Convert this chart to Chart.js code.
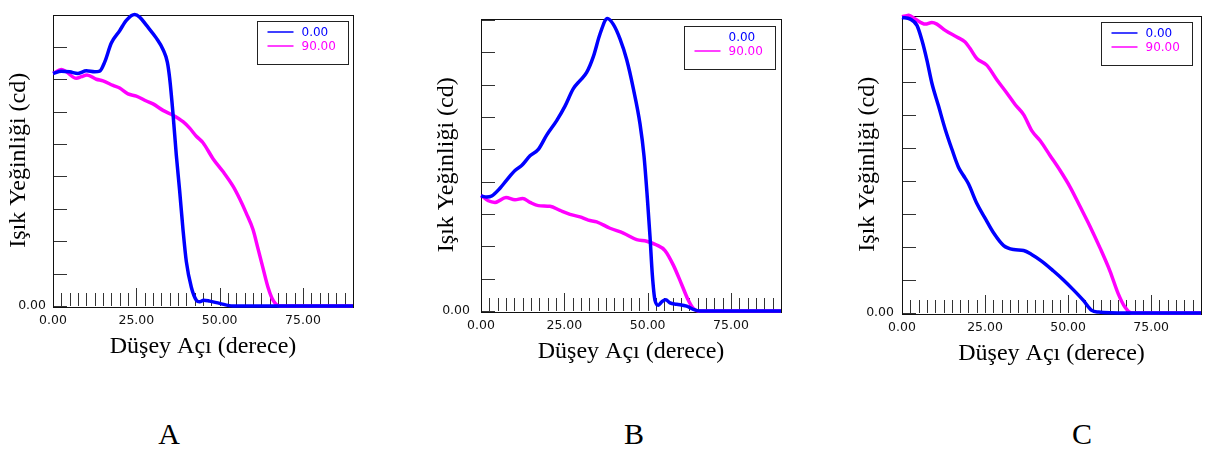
<!DOCTYPE html>
<html>
<head>
<meta charset="utf-8">
<script src="https://cdn.jsdelivr.net/npm/chart.js@4/dist/chart.umd.min.js"></script>
<style>
html,body{margin:0;padding:0;background:#fff;}
body{width:1216px;height:455px;overflow:hidden;position:relative;}
canvas{position:absolute;top:0;}
.tag{position:absolute;top:419px;font-family:"Liberation Serif","Times New Roman",serif;font-size:30px;line-height:30px;color:#000;transform:translateX(-50%);}
</style>
</head>
<body>
<canvas id="cA"></canvas>
<canvas id="cB"></canvas>
<canvas id="cC"></canvas>
<div class="tag" style="left:169px">A</div>
<div class="tag" style="left:634px">B</div>
<div class="tag" style="left:1082px">C</div>
<script>
// ---- labels ----
const xTitle = 'Düşey Açı (derece)';
const yTitle = 'Işık Yeğinliği (cd)';
const seriesLabels = ['0.00', '90.00'];
const xTickLabels = [0, 25, 50, 75];
const yTickLabels = [0];

// ---- Panel A ----
const aBlueAngle = [0, 2.5, 5, 7.5, 10, 12.5, 14, 15.5, 17.5, 20, 22, 24.5, 26, 28, 31, 33, 34.3, 35, 36, 37, 38, 39, 40, 41.5, 43, 44, 45.2, 47, 50, 54, 60, 70, 80, 90];
const aBlueCd    = [7.18, 7.25, 7.23, 7.18, 7.26, 7.23, 7.25, 7.53, 8.12, 8.5, 8.82, 9.0, 8.92, 8.67, 8.27, 7.92, 7.53, 7.03, 5.94, 4.65, 3.55, 2.36, 1.37, 0.58, 0.18, 0.13, 0.18, 0.15, 0.08, 0, 0, 0, 0, 0];
const aMagAngle  = [0, 2.5, 4, 7, 8.5, 10.2, 13, 15, 18, 20, 22.5, 25, 28, 30, 33, 36, 39, 41, 43, 45, 48, 51, 54, 56, 58, 60, 61.5, 63, 64.5, 66, 68, 75, 80, 90];
const aMagCd     = [7.18, 7.3, 7.23, 7.03, 7.08, 7.13, 7.0, 6.95, 6.81, 6.73, 6.55, 6.48, 6.33, 6.24, 6.04, 5.89, 5.69, 5.49, 5.24, 5.04, 4.55, 4.15, 3.7, 3.31, 2.86, 2.36, 1.77, 1.17, 0.58, 0.18, 0, 0, 0, 0];

// ---- Panel B ----
const bBlueAngle = [0, 1.7, 3.2, 5.7, 7.7, 10.2, 12.2, 14.7, 17.2, 19.7, 22.7, 25.2, 27.7, 29.7, 31.7, 33.7, 35.7, 37.9, 39.7, 41.7, 43.7, 45.7, 47.7, 48.9, 49.9, 50.7, 51.4, 52.2, 53.2, 54.2, 55.4, 56.7, 58.7, 61.7, 63.7, 65.7, 75, 90];
const bBlueCd    = [3.56, 3.53, 3.56, 3.8, 4.05, 4.35, 4.5, 4.8, 5.0, 5.44, 5.89, 6.34, 6.88, 7.13, 7.38, 7.87, 8.57, 9.05, 8.87, 8.42, 7.78, 6.88, 5.79, 4.8, 3.5, 2.31, 1.12, 0.33, 0.18, 0.28, 0.35, 0.25, 0.21, 0.15, 0.05, 0, 0, 0];
const bMagAngle  = [0, 2.2, 4.2, 7.5, 10.2, 12.5, 14.7, 17.2, 20.7, 23.7, 26.7, 29.7, 32.2, 34.7, 38.7, 42.7, 46.7, 49.7, 52.7, 55.2, 57.7, 60.2, 62.2, 63.7, 65.2, 75, 90];
const bMagCd     = [3.58, 3.41, 3.36, 3.51, 3.44, 3.48, 3.36, 3.26, 3.24, 3.11, 2.99, 2.91, 2.81, 2.76, 2.56, 2.41, 2.21, 2.16, 2.04, 1.87, 1.42, 0.82, 0.33, 0.08, 0, 0, 0];

// ---- Panel C ----
const cBlueAngle = [0, 2.5, 4.5, 6, 7.5, 9, 11, 13, 15, 17, 18.5, 20, 22.5, 25, 27.6, 30.6, 33.6, 36.6, 39, 42, 45.6, 48.6, 51.6, 54.6, 57.1, 59.1, 67.6, 80, 90];
const cBlueCd    = [8.94, 8.89, 8.7, 8.25, 7.65, 6.95, 6.26, 5.56, 4.96, 4.41, 4.16, 3.91, 3.32, 2.87, 2.42, 2.04, 1.92, 1.89, 1.77, 1.57, 1.27, 1.0, 0.7, 0.38, 0.08, 0.03, 0, 0, 0];
const cMagAngle  = [0, 2, 4, 7, 9, 10.5, 13, 16.5, 19, 20.5, 22.5, 25.5, 28.6, 31.6, 34.1, 36.6, 39.1, 41.6, 44.6, 47.6, 50.6, 53.6, 56.6, 59.6, 62.6, 65.1, 67.1, 69.1, 80, 90];
const cMagCd     = [8.96, 9.01, 8.89, 8.74, 8.79, 8.74, 8.55, 8.35, 8.2, 8.0, 7.7, 7.5, 7.05, 6.65, 6.3, 6.0, 5.51, 5.21, 4.76, 4.31, 3.81, 3.22, 2.62, 1.97, 1.27, 0.58, 0.18, 0, 0, 0];

// ---- styling / layout (not data) ----
const BLUE = '#0000ff', MAGENTA = '#ff00ff';
const panels = [
  {id:'cA', left:0,   top:4,  bottom:306, width:300, yMax:9.0,  yPad:7,  hideFirstSample:false, legendInset:5, legendDy:6,
   blue:[aBlueAngle,aBlueCd], mag:[aMagAngle,aMagCd]},
  {id:'cB', left:428, top:7,  bottom:311, width:300, yMax:9.05, yPad:11, hideFirstSample:true,  legendInset:6, legendDy:7,
   blue:[bBlueAngle,bBlueCd], mag:[bMagAngle,bMagCd]},
  {id:'cC', left:849, top:12, bottom:313, width:299, yMax:9.0,  yPad:8,  hideFirstSample:false, legendInset:9, legendDy:6,
   blue:[cBlueAngle,cBlueCd], mag:[cMagAngle,cMagCd]}
];

const Y_AXIS_W = 53, X_AXIS_H = 59, CANVAS_W = 365;

function zip(xs, ys){ return xs.map((x,i)=>({x:x, y:ys[i]})); }

const framePlugin = {
  id: 'frame',
  beforeDatasetsDraw(chart) {
    const {ctx, chartArea: a, scales: {x, y}} = chart;
    ctx.save();
    ctx.strokeStyle = '#333';
    ctx.lineWidth = 1;
    ctx.beginPath();
    // x ticks (inside, upward)
    for (let v = 0; v <= 90.001; v += 2.5) {
      const px = Math.round(x.getPixelForValue(v)) + 0.5;
      const len = (Math.abs(v % 25) < 1e-6) ? 18 : 13;
      ctx.moveTo(px, a.bottom);
      ctx.lineTo(px, a.bottom - len);
    }
    // y ticks (inside, rightward)
    for (let v = 0; v <= y.max + 1e-6; v += 1) {
      const py = Math.round(y.getPixelForValue(v)) + 0.5;
      ctx.moveTo(a.left, py);
      ctx.lineTo(a.left + 14, py);
    }
    ctx.stroke();
    ctx.strokeStyle = '#111';
    ctx.strokeRect(Math.round(a.left) + 0.5, Math.round(a.top) + 0.5, Math.round(a.right - a.left), Math.round(a.bottom - a.top));
    ctx.restore();
  },
  afterDraw(chart, args, opts) {
    const {ctx, chartArea: a} = chart;
    const w = 91, h = 43;
    const bx = Math.round(a.right - opts.inset - w) + 0.5;
    const by = Math.round(a.top + opts.dy) + 0.5;
    ctx.save();
    ctx.fillStyle = '#fff';
    ctx.fillRect(bx, by, w, h);
    ctx.strokeStyle = '#222';
    ctx.lineWidth = 1;
    ctx.strokeRect(bx, by, w, h);
    ctx.font = '12px "DejaVu Sans", Verdana, sans-serif';
    ctx.textBaseline = 'middle';
    ctx.textAlign = 'left';
    chart.data.datasets.forEach((ds, i) => {
      const ry = Math.round(by + 10 + i * 14.5);
      if (!(i === 0 && opts.hideFirstSample)) {
        ctx.strokeStyle = ds.borderColor;
        ctx.lineWidth = 1.5;
        ctx.beginPath();
        ctx.moveTo(bx + 10, ry);
        ctx.lineTo(bx + 36, ry);
        ctx.stroke();
      }
      ctx.fillStyle = ds.borderColor;
      ctx.fillText(ds.label, bx + 44, ry + 0.5);
    });
    ctx.restore();
  }
};

panels.forEach(p => {
  const cv = document.getElementById(p.id);
  const H = p.bottom + X_AXIS_H;
  cv.width = CANVAS_W; cv.height = H;
  cv.style.width = CANVAS_W + 'px'; cv.style.height = H + 'px';
  cv.style.left = p.left + 'px';
  const tickFont = {family: '"DejaVu Sans", Verdana, sans-serif', size: 12.5};
  const titleFont = {family: '"Liberation Serif", "Times New Roman", serif', size: 24, lineHeight: 1.2};
  new Chart(cv, {
    type: 'line',
    data: {
      datasets: [
        {label: seriesLabels[0], data: zip(p.blue[0], p.blue[1]), borderColor: BLUE, backgroundColor: BLUE,
         borderWidth: 3.5, pointRadius: 0, cubicInterpolationMode: 'monotone', fill: false, clip: 3},
        {label: seriesLabels[1], data: zip(p.mag[0], p.mag[1]), borderColor: MAGENTA, backgroundColor: MAGENTA,
         borderWidth: 3.5, pointRadius: 0, cubicInterpolationMode: 'monotone', fill: false, clip: 3}
      ]
    },
    options: {
      responsive: false, animation: false, devicePixelRatio: 1,
      events: [],
      layout: {padding: {left: 0, top: p.top, right: CANVAS_W - Y_AXIS_W - p.width, bottom: 0}},
      plugins: {
        legend: {display: false}, tooltip: {enabled: false},
        frame: {inset: p.legendInset, dy: p.legendDy, hideFirstSample: p.hideFirstSample}
      },
      scales: {
        x: {
          type: 'linear', min: 0, max: 90,
          afterBuildTicks: s => { s.ticks = xTickLabels.map(v => ({value: v})); },
          afterFit: s => { s.height = X_AXIS_H; },
          grid: {display: false, drawTicks: false}, border: {display: false},
          ticks: {callback: v => Number(v).toFixed(2), font: tickFont, color: '#111', padding: 7, maxRotation: 0, autoSkip: false},
          title: {display: true, text: xTitle, font: titleFont, color: '#000', padding: {top: 0, bottom: 4}}
        },
        y: {
          type: 'linear', min: 0, max: p.yMax,
          afterBuildTicks: s => { s.ticks = yTickLabels.map(v => ({value: v})); },
          afterFit: s => { s.width = Y_AXIS_W; },
          grid: {display: false, drawTicks: false}, border: {display: false},
          ticks: {callback: v => Number(v).toFixed(2), font: tickFont, color: '#111', padding: p.yPad},
          title: {display: true, text: yTitle, font: titleFont, color: '#000', padding: {top: 4, bottom: 0}}
        }
      }
    },
    plugins: [framePlugin]
  });
});
</script>
</body>
</html>
